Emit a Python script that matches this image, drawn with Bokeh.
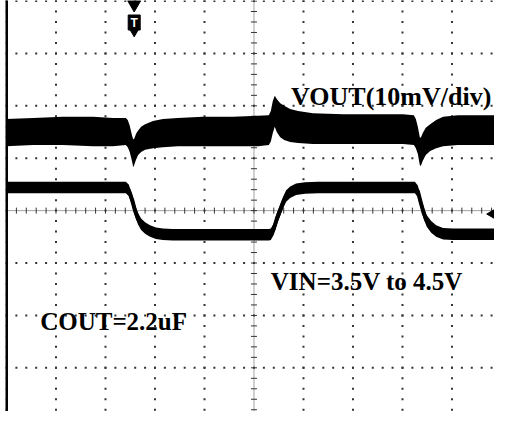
import numpy as np
from bokeh.plotting import figure
from bokeh.models import Span
from bokeh.core.properties import value
from bokeh.embed import file_html
from bokeh.resources import INLINE

# ---- data (scope divisions: x = time div, y = vertical div, 0 = screen centre) ----
vout_t = [-5.01, -4.46, -3.86, -3.25, -2.85, -2.59, -2.55, -2.51, -2.46, -2.44, -2.42, -2.38,
          -2.34, -2.28, -2.20, -2.04, -1.84, -1.54, -1.03, -0.42, 0.08, 0.30, 0.34, 0.38,
          0.42, 0.46, 0.53, 0.61, 0.73, 0.89, 1.19, 1.80, 2.40, 3.01, 3.23, 3.27, 3.31,
          3.35, 3.37, 3.41, 3.47, 3.56, 3.68, 3.82, 4.12, 4.53, 5.03]
vout_hi = [1.75, 1.77, 1.79, 1.79, 1.77, 1.77, 1.73, 1.62, 1.42, 1.36, 1.37, 1.47,
           1.53, 1.60, 1.65, 1.71, 1.75, 1.77, 1.79, 1.79, 1.81, 1.82, 1.90, 2.09,
           2.19, 2.13, 2.05, 2.00, 1.94, 1.90, 1.86, 1.84, 1.84, 1.84, 1.82, 1.75, 1.60,
           1.40, 1.39, 1.48, 1.58, 1.65, 1.73, 1.79, 1.82, 1.82, 1.82]
vout_lo = [1.23, 1.25, 1.25, 1.23, 1.23, 1.25, 1.21, 1.12, 0.93, 0.83, 0.87, 0.98,
           1.06, 1.12, 1.16, 1.19, 1.21, 1.23, 1.23, 1.23, 1.23, 1.25, 1.32, 1.48,
           1.60, 1.50, 1.40, 1.35, 1.31, 1.29, 1.27, 1.27, 1.27, 1.27, 1.25, 1.19, 1.08,
           0.87, 0.85, 0.95, 1.06, 1.14, 1.19, 1.23, 1.25, 1.25, 1.25]

vin_t = [-5.01, -2.59, -2.53, -2.46, -2.40, -2.34, -2.28, -2.20, -2.10, -1.98, -1.84, -1.64,
         0.30, 0.34, 0.40, 0.46, 0.53, 0.59, 0.65, 0.73, 0.85, 1.03, 1.29,
         3.25, 3.31, 3.37, 3.43, 3.49, 3.58, 3.68, 3.82, 4.02, 5.03]
vin_v = [0.44, 0.44, 0.39, 0.20, -0.01, -0.16, -0.26, -0.33, -0.39, -0.43, -0.45, -0.46,
         -0.46, -0.45, -0.35, -0.16, 0.01, 0.16, 0.28, 0.35, 0.41, 0.43, 0.44,
         0.44, 0.37, 0.15, -0.05, -0.20, -0.31, -0.39, -0.44, -0.45, -0.45]
vin_half = 0.11

labels = ["VOUT(10mV/div)", "VIN=3.5V to 4.5V", "COUT=2.2uF"]
label_x = [0.75, 0.34, -4.32]
label_y = [2.17, -1.36, -2.11]
label_size = ["26px", "25px", "25px"]

trig_t = -2.42
gnd_level = -0.065

x_divs = list(range(-5, 6))
y_divs = list(range(-4, 5))

PXX, PXY = 49.5, 52.4   # pixels per division

p = figure(width=494, height=411, output_backend="svg", toolbar_location=None,
           x_range=(-5.02, -5.02 + 489 / PXX), y_range=(4.01 - 411 / PXY, 4.01),
           x_axis_type=None, y_axis_type=None, min_border=0)
p.min_border_left = 5
p.outline_line_color = None
p.background_fill_color = "white"
p.border_fill_color = "white"
p.grid.visible = False

# graticule dots
gx, gy = [], []
for xv in x_divs:
    if xv == 0:
        continue
    for k in range(-20, 21):
        gx.append(xv); gy.append(k / 5)
for yv in y_divs:
    if yv == 0:
        continue
    for k in range(-25, 26):
        gx.append(k / 5); gy.append(yv)
p.scatter(gx, gy, marker="square", size=2, color="#333333", line_color=None)

# centre lines with minor ticks
p.line([-5.1, 5.1], [0, 0], line_color="#444444", line_width=1, line_dash="1 1")
p.line([0, 0], [-4.1, 4.1], line_color="#444444", line_width=1, line_dash="1 1")
mt = np.arange(-25, 26) / 5
p.segment(mt, -3 / PXY, mt, 3 / PXY, line_color="#333333", line_width=1)
mv = np.arange(-20, 21) / 5
p.segment(-3 / PXX, mv, 3 / PXX, mv, line_color="#333333", line_width=1)

# left border
p.add_layout(Span(location=-5.0, dimension="height", line_color="black", line_width=3))

# traces
p.varea(x=vout_t, y1=vout_lo, y2=vout_hi, color="black")
vin_arr = np.array(vin_v)
p.varea(x=vin_t, y1=vin_arr - vin_half, y2=vin_arr + vin_half, color="black")
p.line(vin_t, vin_v, line_color="black", line_width=4)

# labels
for s, x, y, fs in zip(labels, label_x, label_y, label_size):
    p.text([x], [y], text=[s], text_font=value("Liberation Serif"), text_font_style="bold",
           text_font_size=fs, text_baseline="alphabetic", text_align="left", text_color="black")

# trigger marker
p.scatter([trig_t], [4.01 - 4 / PXY], marker="inverted_triangle", size=13, color="black")
p.rect([trig_t], [4.01 - 22 / PXY], width=12, height=15, width_units="screen",
       height_units="screen", color="black")
p.scatter([trig_t], [4.01 - 30 / PXY], marker="inverted_triangle", size=11, color="black")
p.text([trig_t], [4.01 - 22 / PXY], text=["T"], text_font=value("Liberation Sans"),
       text_font_style="bold", text_font_size="12px", text_align="center",
       text_baseline="middle", text_color="white")

# ground/offset arrow on the right
p.scatter([4.83], [gnd_level], marker="triangle", angle=np.pi / 2, size=11, color="black")

open("out.html", "w").write(file_html(p, INLINE))
